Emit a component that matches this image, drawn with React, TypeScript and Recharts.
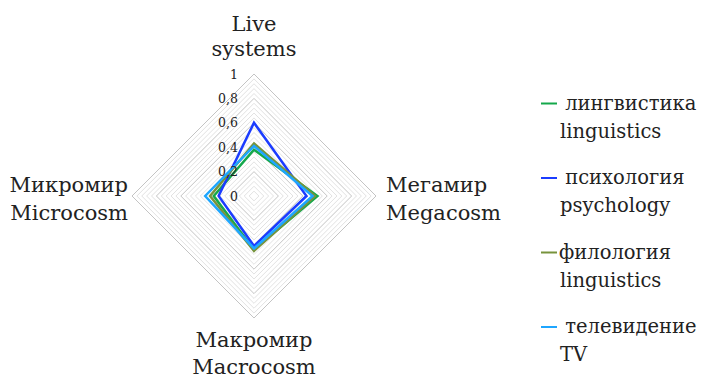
import { RadarChart, Radar, PolarGrid, PolarAngleAxis, PolarRadiusAxis, Legend } from "recharts";

// Радарная диаграмма: четыре сферы, четыре дисциплины.

const axesLabels = ["Live systems", "Мегамир Megacosm", "Макромир Macrocosm", "Микромир Microcosm"];

const seriesKeys = ["ling", "psy", "phil", "tv"];
const seriesRu = [" лингвистика", " психология", "филология", " телевидение"];
const seriesEn = ["linguistics", "psychology", "linguistics", "TV"];
const seriesColors = ["#14A84B", "#1B3CFF", "#77933C", "#1EA6FF"];

const linguistics = [0.38, 0.52, 0.44, 0.33];
const psychology = [0.6, 0.43, 0.41, 0.29];
const philology = [0.43, 0.5, 0.45, 0.36];
const television = [0.41, 0.48, 0.43, 0.4];

const radiusTicks = [0, 0.2, 0.4, 0.6, 0.8, 1];
const minorStep = 0.04;

const W = 701;
const H = 376;
const CX = 254;
const CY = 196;
const R = 122;
const FONT = "DejaVu Serif, serif";
const TEXT = "#222";

const data = axesLabels.map((axis, i) => ({
  axis,
  ling: linguistics[i],
  psy: psychology[i],
  phil: philology[i],
  tv: television[i],
}));

// кольца сетки: крупные по 0,2 и мелкие по 0,04
const majorRadii = radiusTicks.filter((t) => t > 0).map((t) => t * R);
const minorRadii: number[] = [];
for (let k = 1; k < Math.round(1 / minorStep); k++) {
  if (k % 5 !== 0) minorRadii.push(k * minorStep * R);
}

const textStyle = { fontFamily: FONT, fill: TEXT };

function AngleTick(props: any) {
  const { x, y, payload } = props;
  const lines = String(payload.value).split(" ");
  let anchor: "start" | "middle" | "end" = "middle";
  let tx = x;
  let first = y;
  let step = 28;
  if (Math.abs(x - CX) < 1 && y < CY) {
    first = y - 35;
    step = 25;
  } else if (Math.abs(x - CX) < 1) {
    first = y + 21;
    step = 27;
  } else if (x > CX) {
    anchor = "start";
    tx = x + 2;
    first = y - 4;
  } else {
    anchor = "end";
    tx = x + 4;
    first = y - 4;
  }
  return (
    <text textAnchor={anchor} fontSize={21} style={textStyle}>
      {lines.map((l, i) => (
        <tspan key={i} x={tx} y={first + i * step}>
          {l}
        </tspan>
      ))}
    </text>
  );
}

function RadiusTick(props: any) {
  const { x, y, payload } = props;
  return (
    <text x={x - 16} y={y} textAnchor="end" dominantBaseline="central" fontSize={12.5} style={textStyle}>
      {String(payload.value).replace(".", ",")}
    </text>
  );
}

function LegendBox() {
  return (
    <svg width={171} height={300} style={{ overflow: "visible" }}>
      {seriesKeys.map((k, i) => {
        const my = 23.5 + i * 74.5;
        return (
          <g key={k}>
            <line x1={11} x2={27} y1={my} y2={my} stroke={seriesColors[i]} strokeWidth={2} />
            <text x={29} y={my + 6} fontSize={19.5} style={{ ...textStyle, whiteSpace: "pre" }}>
              {seriesRu[i]}
            </text>
            <text x={30} y={my + 34} fontSize={19.5} style={textStyle}>
              {seriesEn[i]}
            </text>
          </g>
        );
      })}
    </svg>
  );
}

export default function App() {
  return (
    <div style={{ position: "absolute", left: 0, top: 0, width: W, height: H, background: "#fff" }}>
      <RadarChart width={W} height={H} data={data} cx={CX} cy={CY} outerRadius={R} margin={{ top: 0, right: 0, bottom: 0, left: 0 }}>
        <PolarGrid gridType="polygon" radialLines={false} polarRadius={minorRadii} stroke="#e2e2e2" />
        <PolarGrid gridType="polygon" radialLines={false} polarRadius={majorRadii} stroke="#c4c4c4" />
        <PolarAngleAxis dataKey="axis" tick={<AngleTick />} tickLine={false} axisLine={false} />
        <PolarRadiusAxis
          angle={90}
          domain={[0, 1]}
          ticks={radiusTicks as any}
          tickCount={6}
          tick={<RadiusTick />}
          axisLine={false}
          tickLine={false}
        />
        {seriesKeys.map((k, i) => (
          <Radar
            key={k}
            dataKey={k}
            name={`${seriesRu[i]} ${seriesEn[i]}`}
            stroke={seriesColors[i]}
            strokeWidth={2.5}
            fill="none"
            fillOpacity={0}
            dot={false}
            isAnimationActive={false}
          />
        ))}
        <Legend
          layout="vertical"
          align="right"
          verticalAlign="middle"
          content={<LegendBox />}
          wrapperStyle={{ left: 530, top: 80, width: 171, height: 300 }}
        />
      </RadarChart>
    </div>
  );
}
